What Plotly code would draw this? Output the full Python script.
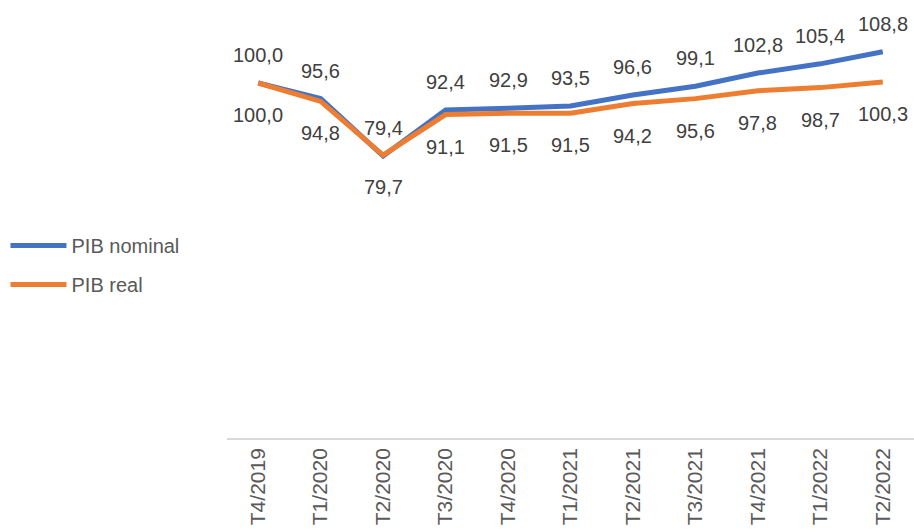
import plotly.graph_objects as go

categories = ["T4/2019", "T1/2020", "T2/2020", "T3/2020", "T4/2020", "T1/2021",
              "T2/2021", "T3/2021", "T4/2021", "T1/2022", "T2/2022"]
pib_nominal = [100.0, 95.6, 79.4, 92.4, 92.9, 93.5, 96.6, 99.1, 102.8, 105.4, 108.8]
pib_real = [100.0, 94.8, 79.7, 91.1, 91.5, 91.5, 94.2, 95.6, 97.8, 98.7, 100.3]

BLUE = "#4472C4"
ORANGE = "#ED7D31"
FONT = "Liberation Sans, Arial, sans-serif"

def fmt(v):
    return f"{v:.1f}".replace(".", ",")

fig = go.Figure()
fig.add_trace(go.Scatter(x=categories, y=pib_nominal, mode="lines", name="PIB nominal",
                         line=dict(color=BLUE, width=5), legendgroup="a"))
fig.add_trace(go.Scatter(x=categories, y=pib_real, mode="lines", name="PIB real",
                         line=dict(color=ORANGE, width=5), legendgroup="b"))

for c, v in zip(categories, pib_nominal):
    fig.add_annotation(x=c, y=v, text=fmt(v), showarrow=False, yshift=28,
                       font=dict(family=FONT, size=20, color="#404040"))
for c, v in zip(categories, pib_real):
    fig.add_annotation(x=c, y=v, text=fmt(v), showarrow=False, yshift=-32,
                       font=dict(family=FONT, size=20, color="#404040"))

fig.update_layout(
    width=914, height=529,
    margin=dict(l=227, r=0, t=12, b=91),
    paper_bgcolor="white", plot_bgcolor="white",
    font=dict(family=FONT, size=20, color="#595959"),
    showlegend=True,
    legend=dict(xref="container", yref="container", x=0.006, y=1 - 226 / 529,
                xanchor="left", yanchor="top", tracegroupgap=10, itemwidth=56,
                font=dict(family=FONT, size=20, color="#595959"),
                bgcolor="rgba(0,0,0,0)"),
    xaxis=dict(type="category", range=[-0.5, 10.5], tickangle=-90, showgrid=False,
               showline=True, linecolor="#D9D9D9", linewidth=1.5, ticks="",
               tickfont=dict(family=FONT, size=21, color="#595959")),
    yaxis=dict(range=[0, 120], visible=False, showgrid=False, zeroline=False),
)

fig.write_html("out.html")
